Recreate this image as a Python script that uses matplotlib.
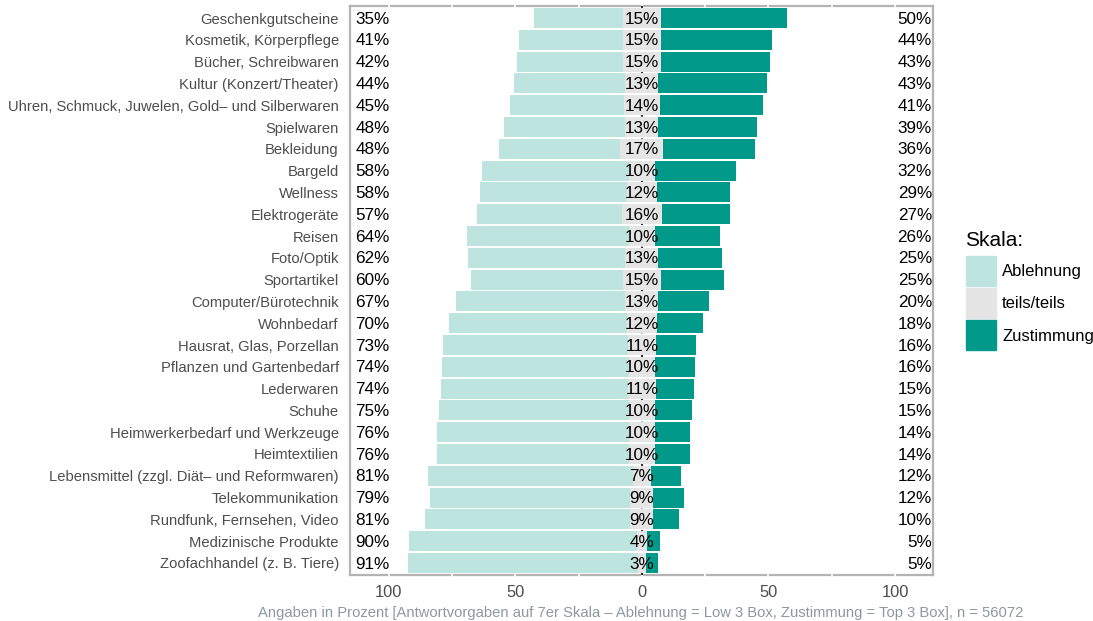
import matplotlib.pyplot as plt
from matplotlib.patches import Rectangle
import numpy as np

categories = [
    "Geschenkgutscheine", "Kosmetik, Körperpflege", "Bücher, Schreibwaren",
    "Kultur (Konzert/Theater)", "Uhren, Schmuck, Juwelen, Gold\u2013 und Silberwaren",
    "Spielwaren", "Bekleidung", "Bargeld", "Wellness", "Elektrogeräte", "Reisen",
    "Foto/Optik", "Sportartikel", "Computer/Bürotechnik", "Wohnbedarf",
    "Hausrat, Glas, Porzellan", "Pflanzen und Gartenbedarf", "Lederwaren", "Schuhe",
    "Heimwerkerbedarf und Werkzeuge", "Heimtextilien",
    "Lebensmittel (zzgl. Diät\u2013 und Reformwaren)", "Telekommunikation",
    "Rundfunk, Fernsehen, Video", "Medizinische Produkte", "Zoofachhandel (z. B. Tiere)",
]
ablehnung = [35, 41, 42, 44, 45, 48, 48, 58, 58, 57, 64, 62, 60, 67, 70, 73, 74, 74, 75, 76, 76, 81, 79, 81, 90, 91]
teils = [15, 15, 15, 13, 14, 13, 17, 10, 12, 16, 10, 13, 15, 13, 12, 11, 10, 11, 10, 10, 10, 7, 9, 9, 4, 3]
zustimmung = [50, 44, 43, 43, 41, 39, 36, 32, 29, 27, 26, 25, 25, 20, 18, 16, 16, 15, 15, 14, 14, 12, 12, 10, 5, 5]
legend_labels = ["Ablehnung", "teils/teils", "Zustimmung"]
xticks = [-100, -50, 0, 50, 100]
caption = ("Angaben in Prozent [Antwortvorgaben auf 7er Skala \u2013 Ablehnung = Low 3 Box, "
           "Zustimmung = Top 3 Box], n = 56072")

col_low, col_mid, col_high = "#BEE4E0", "#E5E5E5", "#00998A"
plt.rcParams['font.family'] = ['Liberation Sans', 'DejaVu Sans']

fig = plt.figure(figsize=(10.93, 6.21), dpi=100)
ax = fig.add_axes([0.3202, 0.0741, 0.5334, 0.9162])

n = len(categories)
y = np.arange(n)[::-1]
lo = np.array(ablehnung, float)
mi = np.array(teils, float)
hi = np.array(zustimmung, float)

ax.axvline(0, color="black", lw=1.2, ls=(0, (2, 3)), zorder=0.8)
ax.barh(y, -lo, left=-mi / 2, height=0.92, color=col_low, zorder=1)
ax.barh(y, mi, left=-mi / 2, height=0.92, color=col_mid, zorder=1)
ax.barh(y, hi, left=mi / 2, height=0.92, color=col_high, zorder=1)

for yi, a, m, z in zip(y, ablehnung, teils, zustimmung):
    ax.text(-113.2, yi - 0.05, f"{a}%", ha="left", va="center", fontsize=12.3, zorder=3)
    ax.text(0, yi - 0.05, f"{m}%", ha="center", va="center", fontsize=12.3, zorder=3)
    ax.text(114.6, yi - 0.05, f"{z}%", ha="right", va="center", fontsize=12.3, zorder=3)

ax.set_xlim(-115.3, 115)
ax.set_ylim(-0.55, n - 0.45)
ax.set_yticks(y)
ax.set_yticklabels(categories, fontsize=10.65, color="#4D4D4D")
ax.set_xticks(xticks)
ax.set_xticklabels([str(abs(t)) for t in xticks], fontsize=11.9, color="#4D4D4D")
ax.tick_params(length=0, pad=7.5)
ax.tick_params(axis="y", pad=8)

for s in ax.spines.values():
    s.set_color("#B3B3B3")
    s.set_linewidth(1.6)
    s.set_zorder(0.5)

# white grid lines only show where they cross the border
trans = ax.get_xaxis_transform()
for g in range(-100, 101, 25):
    ax.plot([g, g], [-0.01, 1.01], transform=trans, color="white", lw=1.2,
            clip_on=False, zorder=0.6)

fig.text(0.5865, 0.001, caption, ha="center", va="bottom", fontsize=10.6, color="#8E979E")

# legend
fig.text(965 / 1093, 1 - 241 / 621, "Skala:", fontsize=15, va="center", ha="left")
cols = [col_low, col_mid, col_high]
tops = [256, 288, 320]
for c, t, lab in zip(cols, tops, legend_labels):
    fig.patches.append(Rectangle((966 / 1093, 1 - (t + 30) / 621), 30 / 1093, 30 / 621,
                                 transform=fig.transFigure, color=c))
    fig.text(1002 / 1093, 1 - (t + 16) / 621, lab, fontsize=12, va="center", ha="left")

fig.savefig("out.png", dpi=100)
